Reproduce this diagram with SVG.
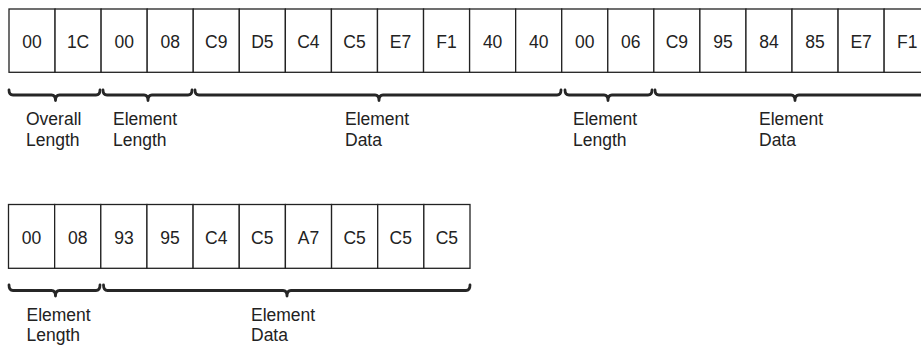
<svg xmlns="http://www.w3.org/2000/svg" width="921" height="346" viewBox="0 0 921 346">
<style>
.cell rect{fill:#fff;stroke:#222;stroke-width:1.3}
.cell text{font-family:"Liberation Sans",Arial,sans-serif;font-size:17.5px;fill:#222;text-anchor:middle}
.lbl{font-family:"Liberation Sans",Arial,sans-serif;font-size:17.5px;fill:#222}
.brace{fill:none;stroke:#262626;stroke-width:2.8;stroke-linecap:round;stroke-linejoin:round}
</style>
<rect width="921" height="346" fill="#fff"/>
<g id="row1">
<g id="c1_0" class="cell"><rect x="9" y="9" width="46.06" height="63.3"/><text x="32.03" y="48">00</text></g>
<g id="c1_1" class="cell"><rect x="55.06" y="9" width="46.06" height="63.3"/><text x="78.09" y="48">1C</text></g>
<g id="c1_2" class="cell"><rect x="101.12" y="9" width="46.06" height="63.3"/><text x="124.15" y="48">00</text></g>
<g id="c1_3" class="cell"><rect x="147.18" y="9" width="46.06" height="63.3"/><text x="170.21" y="48">08</text></g>
<g id="c1_4" class="cell"><rect x="193.24" y="9" width="46.06" height="63.3"/><text x="216.27" y="48">C9</text></g>
<g id="c1_5" class="cell"><rect x="239.3" y="9" width="46.06" height="63.3"/><text x="262.33" y="48">D5</text></g>
<g id="c1_6" class="cell"><rect x="285.36" y="9" width="46.06" height="63.3"/><text x="308.39" y="48">C4</text></g>
<g id="c1_7" class="cell"><rect x="331.42" y="9" width="46.06" height="63.3"/><text x="354.45" y="48">C5</text></g>
<g id="c1_8" class="cell"><rect x="377.48" y="9" width="46.06" height="63.3"/><text x="400.51" y="48">E7</text></g>
<g id="c1_9" class="cell"><rect x="423.54" y="9" width="46.06" height="63.3"/><text x="446.57" y="48">F1</text></g>
<g id="c1_10" class="cell"><rect x="469.6" y="9" width="46.06" height="63.3"/><text x="492.63" y="48">40</text></g>
<g id="c1_11" class="cell"><rect x="515.66" y="9" width="46.06" height="63.3"/><text x="538.69" y="48">40</text></g>
<g id="c1_12" class="cell"><rect x="561.72" y="9" width="46.06" height="63.3"/><text x="584.75" y="48">00</text></g>
<g id="c1_13" class="cell"><rect x="607.78" y="9" width="46.06" height="63.3"/><text x="630.81" y="48">06</text></g>
<g id="c1_14" class="cell"><rect x="653.84" y="9" width="46.06" height="63.3"/><text x="676.87" y="48">C9</text></g>
<g id="c1_15" class="cell"><rect x="699.9" y="9" width="46.06" height="63.3"/><text x="722.93" y="48">95</text></g>
<g id="c1_16" class="cell"><rect x="745.96" y="9" width="46.06" height="63.3"/><text x="768.99" y="48">84</text></g>
<g id="c1_17" class="cell"><rect x="792.02" y="9" width="46.06" height="63.3"/><text x="815.05" y="48">85</text></g>
<g id="c1_18" class="cell"><rect x="838.08" y="9" width="46.06" height="63.3"/><text x="861.11" y="48">E7</text></g>
<g id="c1_19" class="cell"><rect x="884.14" y="9" width="46.06" height="63.3"/><text x="907.17" y="48">F1</text></g>
</g>
<g id="row2">
<g id="c2_0" class="cell"><rect x="8.5" y="204.5" width="46.15" height="63.8"/><text x="31.6" y="243.5">00</text></g>
<g id="c2_1" class="cell"><rect x="54.65" y="204.5" width="46.15" height="63.8"/><text x="77.7" y="243.5">08</text></g>
<g id="c2_2" class="cell"><rect x="100.8" y="204.5" width="46.15" height="63.8"/><text x="123.9" y="243.5">93</text></g>
<g id="c2_3" class="cell"><rect x="146.95" y="204.5" width="46.15" height="63.8"/><text x="170" y="243.5">95</text></g>
<g id="c2_4" class="cell"><rect x="193.1" y="204.5" width="46.15" height="63.8"/><text x="216.2" y="243.5">C4</text></g>
<g id="c2_5" class="cell"><rect x="239.25" y="204.5" width="46.15" height="63.8"/><text x="262.3" y="243.5">C5</text></g>
<g id="c2_6" class="cell"><rect x="285.4" y="204.5" width="46.15" height="63.8"/><text x="308.5" y="243.5">A7</text></g>
<g id="c2_7" class="cell"><rect x="331.55" y="204.5" width="46.15" height="63.8"/><text x="354.6" y="243.5">C5</text></g>
<g id="c2_8" class="cell"><rect x="377.7" y="204.5" width="46.15" height="63.8"/><text x="400.8" y="243.5">C5</text></g>
<g id="c2_9" class="cell"><rect x="423.85" y="204.5" width="46.15" height="63.8"/><text x="446.9" y="243.5">C5</text></g>
</g>
<g id="connectors">
<path class="brace" d="M9,90 Q9,95 13,95 L51.5,95 Q55.5,95 55.5,100.5 Q55.5,95 59.5,95 L96,95 Q100,95 100,90"/>
<path class="brace" d="M103,90 Q103,95 107,95 L144,95 Q148,95 148,100.5 Q148,95 152,95 L188,95 Q192,95 192,90"/>
<path class="brace" d="M195,90 Q195,95 199,95 L375,95 Q379,95 379,100.5 Q379,95 383,95 L557,95 Q561,95 561,90"/>
<path class="brace" d="M565,90 Q565,95 569,95 L604,95 Q608,95 608,100.5 Q608,95 612,95 L648,95 Q652,95 652,90"/>
<path class="brace" d="M655,90 Q655,95 659,95 L791,95 Q795,95 795,100.5 Q795,95 799,95 L931,95 Q935,95 935,90"/>
<path class="brace" d="M9,285 Q9,290.5 13,290.5 L51.5,290.5 Q55.5,290.5 55.5,296 Q55.5,290.5 59.5,290.5 L96,290.5 Q100,290.5 100,285"/>
<path class="brace" d="M103.5,285 Q103.5,290.5 107.5,290.5 L283,290.5 Q287,290.5 287,296 Q287,290.5 291,290.5 L466,290.5 Q470,290.5 470,285"/>
</g>
<g id="labels">
<text class="lbl" x="26" y="125">Overall</text><text class="lbl" x="26" y="145.5">Length</text>
<text class="lbl" x="113" y="125">Element</text><text class="lbl" x="113" y="145.5">Length</text>
<text class="lbl" x="345" y="125">Element</text><text class="lbl" x="345" y="145.5">Data</text>
<text class="lbl" x="573" y="125">Element</text><text class="lbl" x="573" y="145.5">Length</text>
<text class="lbl" x="759" y="125">Element</text><text class="lbl" x="759" y="145.5">Data</text>
<text class="lbl" x="26.5" y="320.5">Element</text><text class="lbl" x="26.5" y="341">Length</text>
<text class="lbl" x="251" y="320.5">Element</text><text class="lbl" x="251" y="341">Data</text>
</g>
</svg>
